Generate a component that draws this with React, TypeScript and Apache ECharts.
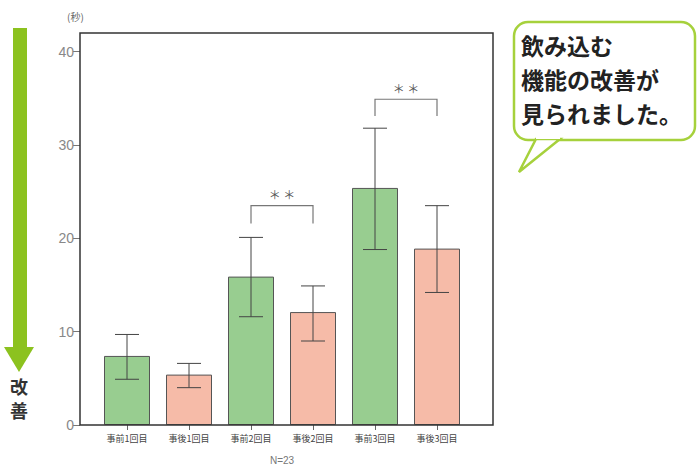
import React, { useEffect, useRef } from "react";
import * as echarts from "echarts";

const categories = ["事前1回目", "事後1回目", "事前2回目", "事後2回目", "事前3回目", "事後3回目"];
const means = [7.4, 5.4, 15.9, 12.1, 25.4, 18.9];
const errHigh = [9.7, 6.6, 20.1, 14.9, 31.8, 23.5];
const errLow = [4.9, 4.0, 11.6, 9.0, 18.8, 14.2];
const barColors = ["#98cd90", "#f6bba8", "#98cd90", "#f6bba8", "#98cd90", "#f6bba8"];
// [from index, to index, bracket top value, leg bottom value]
const brackets = [
  [2, 3, 23.5, 21.6],
  [4, 5, 34.9, 33.1],
];
const yTicks = [0, 10, 20, 30, 40];

export default function App() {
  const ref = useRef<HTMLDivElement>(null);
  useEffect(() => {
    if (!ref.current) return;
    const chart = echarts.init(ref.current, null, { renderer: "svg" });
    const font = "Liberation Sans, Arial, sans-serif";
    const jp = "Noto Sans CJK JP, sans-serif";
    chart.setOption({
      animation: false,
      backgroundColor: "#ffffff",
      grid: { left: 96, right: 230, top: 33, bottom: 43 },
      xAxis: {
        type: "category",
        data: categories,
        axisLine: { show: false },
        axisTick: { show: true, alignWithLabel: true, length: 5, lineStyle: { color: "#666" } },
        axisLabel: { fontSize: 9, color: "#444", margin: 9, fontFamily: jp },
      },
      yAxis: {
        type: "value",
        min: 0,
        max: 42,
        interval: 10,
        offset: 16,
        splitLine: { show: false },
        axisLine: { show: false },
        axisTick: { show: true, length: 7, customValues: yTicks, lineStyle: { color: "#777" } },
        axisLabel: { fontSize: 14, color: "#888", margin: 6, fontFamily: font, customValues: yTicks },
      },
      graphic: [
        {
          type: "rect",
          shape: { x: 80, y: 33, width: 413, height: 392 },
          style: { fill: "none", stroke: "#333", lineWidth: 1.5 },
          z: 10,
        },
        { type: "text", style: { x: 67, y: 12, text: "(秒)", fontSize: 10, fill: "#666", fontFamily: jp } },
        { type: "text", style: { x: 282, y: 455, text: "N=23", fontSize: 10, fill: "#777", fontFamily: font, align: "center" } },
        { type: "rect", shape: { x: 13, y: 28, width: 14, height: 322 }, style: { fill: "#8cc21f" } },
        { type: "polygon", shape: { points: [[4, 347], [34, 347], [19, 372]] }, style: { fill: "#8cc21f" } },
        { type: "text", style: { x: 19, y: 386, text: "改", fontSize: 18, fontWeight: "bold", fill: "#333", align: "center", verticalAlign: "middle", fontFamily: jp } },
        { type: "text", style: { x: 19, y: 410, text: "善", fontSize: 18, fontWeight: "bold", fill: "#333", align: "center", verticalAlign: "middle", fontFamily: jp } },
        {
          type: "rect",
          shape: { x: 514, y: 22, width: 181, height: 118, r: 14 },
          style: { fill: "#fff", stroke: "#a6d13c", lineWidth: 2.5 },
        },
        {
          type: "polygon",
          shape: { points: [[536, 139], [560, 139], [519, 172]] },
          style: { fill: "#fff", stroke: "#a6d13c", lineWidth: 2.5 },
        },
        { type: "rect", shape: { x: 536, y: 134, width: 24, height: 5 }, style: { fill: "#fff" } },
        {
          type: "text",
          style: {
            x: 521,
            y: 28,
            text: "飲み込む\n機能の改善が\n見られました。",
            fontSize: 23,
            lineHeight: 34,
            fontWeight: "bold",
            fill: "#222",
            fontFamily: jp,
          },
        },
      ],
      series: [
        {
          type: "bar",
          barWidth: 46,
          data: means.map((v, i) => ({
            value: v,
            itemStyle: { color: barColors[i], borderColor: "#555", borderWidth: 1 },
          })),
        },
        {
          type: "custom",
          z: 5,
          data: means.map((_, i) => [i, errLow[i], errHigh[i]]),
          renderItem: (params: any, api: any) => {
            const x = api.value(0);
            const lo = api.coord([x, api.value(1)]);
            const hi = api.coord([x, api.value(2)]);
            const w = 12;
            const st = { stroke: "#444", lineWidth: 1 };
            return {
              type: "group",
              children: [
                { type: "line", shape: { x1: hi[0], y1: hi[1], x2: lo[0], y2: lo[1] }, style: st },
                { type: "line", shape: { x1: hi[0] - w, y1: hi[1], x2: hi[0] + w, y2: hi[1] }, style: st },
                { type: "line", shape: { x1: lo[0] - w, y1: lo[1], x2: lo[0] + w, y2: lo[1] }, style: st },
              ],
            };
          },
        },
        {
          type: "custom",
          z: 5,
          data: brackets,
          renderItem: (params: any, api: any) => {
            const a = api.coord([api.value(0), api.value(2)]);
            const b = api.coord([api.value(1), api.value(2)]);
            const legY = api.coord([api.value(0), api.value(3)])[1];
            const st = { stroke: "#777", lineWidth: 1.2, fill: "none" };
            return {
              type: "group",
              children: [
                {
                  type: "polyline",
                  shape: { points: [[a[0], legY], [a[0], a[1]], [b[0], b[1]], [b[0], legY]] },
                  style: st,
                },
                {
                  type: "text",
                  style: {
                    x: (a[0] + b[0]) / 2,
                    y: a[1] - 5,
                    text: "＊ ＊",
                    fontSize: 12,
                    fill: "#555",
                    align: "center",
                    verticalAlign: "bottom",
                    fontFamily: jp,
                  },
                },
              ],
            };
          },
        },
      ],
    });
    return () => chart.dispose();
  }, []);
  return <div ref={ref} style={{ position: "fixed", left: 0, top: 0, width: 698, height: 468 }} />;
}
